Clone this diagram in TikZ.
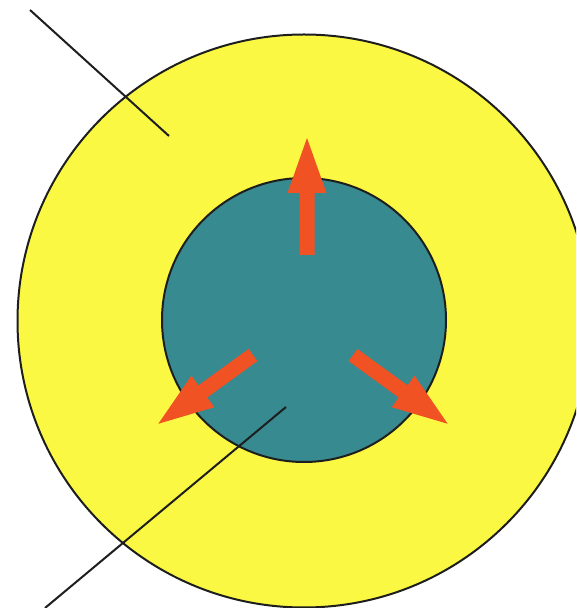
\documentclass[tikz,border=0pt]{standalone}
\usepackage{tikz}
\definecolor{ringyellow}{RGB}{250,248,67}
\definecolor{coreteal}{RGB}{55,138,143}
\definecolor{pushorange}{RGB}{240,82,36}
\definecolor{linegray}{RGB}{30,30,30}
\usetikzlibrary{shapes,arrows}

\begin{document}
\begin{tikzpicture}[x=1pt, y=1pt,
				disc/.style={draw=linegray, line width=2pt, circle, inner sep=0pt, minimum size=2*#1},
				pointer/.style={draw=linegray, line width=2pt},
				blockarrow/.style={fill=pushorange, draw=none}]
				% Bildbereich
				\useasboundingbox (0,0) rectangle (576,608);
				\clip (0,0) rectangle (576,608);
				% Kreise
				\node[disc=286.5pt, fill=ringyellow] (outer) at (304,287) {};
				\node[disc=142pt, fill=coreteal] (inner) at (304,288) {};
				% Pfeile
				\foreach \tx/\ty/\ang in {307/353/90, 253/253/216, 353/253/-36}
					\fill[blockarrow, shift={(\tx,\ty)}, rotate=\ang]
						(0,-7.5) -- (62,-7.5) -- (62,-19.5) -- (117,0) -- (62,19.5) -- (62,7.5) -- (0,7.5) -- cycle;
				% Hinweislinien
				\coordinate (topend) at (30,598);
				\coordinate (topin) at (169,472);
				\coordinate (lowin) at (286,201);
				\coordinate (lowend) at (45,0);
				\draw[pointer] (topend) -- (topin);
				\draw[pointer] (lowin) -- (lowend);
\end{tikzpicture}
\end{document}
